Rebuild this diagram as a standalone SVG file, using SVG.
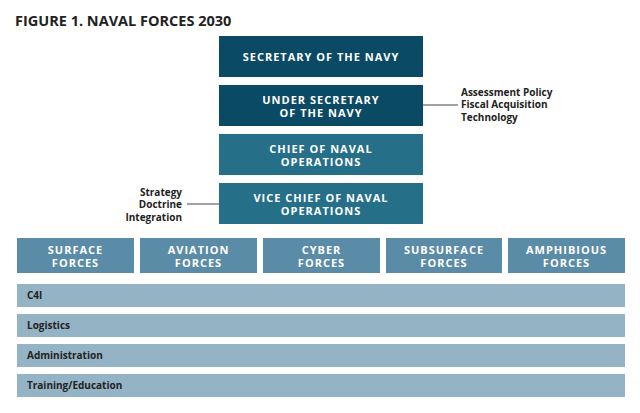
<svg xmlns="http://www.w3.org/2000/svg" width="640" height="413" viewBox="0 0 640 413">
<style>
.t{font-family:"Open Sans","Liberation Sans",sans-serif;font-weight:bold}
.w{fill:#fff;font-size:11px;letter-spacing:1px;text-anchor:middle}
.k{fill:#222;font-size:10px}
.b{fill:#222;font-size:10px}
.d{fill:#0b4a64}.m{fill:#266f89}.f{fill:#5b8ca7}.r{fill:#94b3c5}
</style>
<rect width="640" height="413" fill="#fff"/>
<text class="t" x="15" y="26" font-size="14.5" fill="#222">FIGURE 1. NAVAL FORCES 2030</text>
<g id="connectors" stroke="#444" stroke-width="1">
<line x1="423" y1="105" x2="458" y2="105"/>
<line x1="187" y1="204" x2="219" y2="204"/>
</g>
<g id="secnav"><rect class="d" x="219" y="36" width="204" height="41"/><text class="t w" x="321" y="61">SECRETARY OF THE NAVY</text></g>
<g id="undersec"><rect class="d" x="219" y="85" width="204" height="41"/><text class="t w" x="321" y="104">UNDER SECRETARY</text><text class="t w" x="321" y="117">OF THE NAVY</text></g>
<g id="cno"><rect class="m" x="219" y="134" width="204" height="41"/><text class="t w" x="321" y="153">CHIEF OF NAVAL</text><text class="t w" x="321" y="166">OPERATIONS</text></g>
<g id="vcno"><rect class="m" x="219" y="183" width="204" height="41"/><text class="t w" x="321" y="202">VICE CHIEF OF NAVAL</text><text class="t w" x="321" y="215">OPERATIONS</text></g>
<g id="right-label"><text class="t k" x="461" y="95.5">Assessment Policy</text><text class="t k" x="461" y="108">Fiscal Acquisition</text><text class="t k" x="461" y="120.5">Technology</text></g>
<g id="left-label" text-anchor="end"><text class="t k" x="182" y="195.5">Strategy</text><text class="t k" x="182" y="208">Doctrine</text><text class="t k" x="182" y="220.5">Integration</text></g>
<g id="surface"><rect class="f" x="17" y="238" width="117" height="35"/><text class="t w" x="75.5" y="254">SURFACE</text><text class="t w" x="75.5" y="267">FORCES</text></g>
<g id="aviation"><rect class="f" x="140" y="238" width="117" height="35"/><text class="t w" x="198.5" y="254">AVIATION</text><text class="t w" x="198.5" y="267">FORCES</text></g>
<g id="cyber"><rect class="f" x="263" y="238" width="117" height="35"/><text class="t w" x="321.5" y="254">CYBER</text><text class="t w" x="321.5" y="267">FORCES</text></g>
<g id="subsurface"><rect class="f" x="386" y="238" width="116" height="35"/><text class="t w" x="444" y="254">SUBSURFACE</text><text class="t w" x="444" y="267">FORCES</text></g>
<g id="amphibious"><rect class="f" x="508" y="238" width="117" height="35"/><text class="t w" x="566.5" y="254">AMPHIBIOUS</text><text class="t w" x="566.5" y="267">FORCES</text></g>
<g id="c4i"><rect class="r" x="17" y="284" width="608" height="23"/><text class="t b" x="27" y="299">C4I</text></g>
<g id="logistics"><rect class="r" x="17" y="314" width="608" height="23"/><text class="t b" x="27" y="329">Logistics</text></g>
<g id="administration"><rect class="r" x="17" y="344" width="608" height="23"/><text class="t b" x="27" y="359">Administration</text></g>
<g id="training"><rect class="r" x="17" y="374" width="608" height="23"/><text class="t b" x="27" y="389">Training/Education</text></g>
</svg>
